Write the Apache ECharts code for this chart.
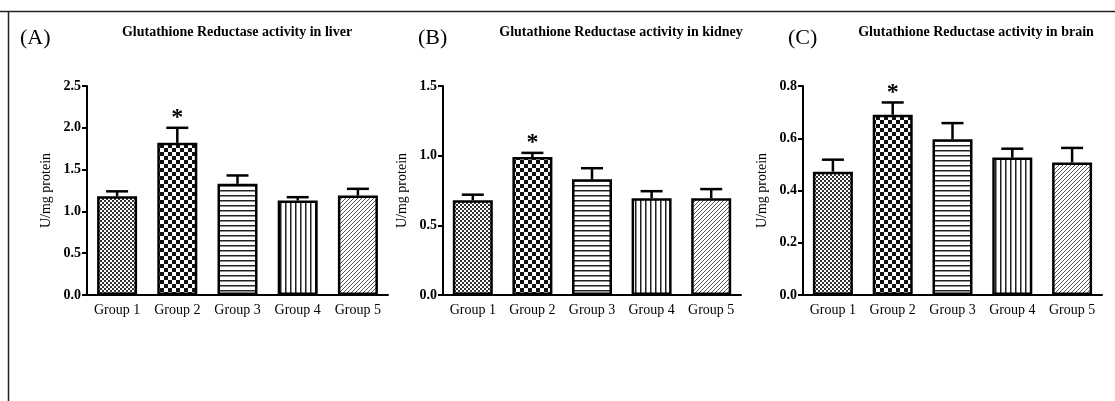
<!DOCTYPE html>
<html lang="en">

<head>
    <meta charset="UTF-8">
    <title>Glutathione Reductase activity</title>
    <script src="https://cdn.jsdelivr.net/npm/echarts@6.0.0/dist/echarts.min.js"></script>
    <style>
        html, body { margin: 0; padding: 0; background: #fff; }
    </style>
</head>

<body>
    <div id="echart" style="width: 1115px; height: 401px;"></div>
</body>

<script>
    // data
    const categories = ['Group 1', 'Group 2', 'Group 3', 'Group 4', 'Group 5'];
    const liverMean = [1.18, 1.82, 1.33, 1.13, 1.19];
    const liverErr = [0.06, 0.18, 0.10, 0.04, 0.08];
    const kidneyMean = [0.68, 0.99, 0.83, 0.695, 0.695];
    const kidneyErr = [0.04, 0.03, 0.08, 0.05, 0.065];
    const brainMean = [0.472, 0.69, 0.596, 0.526, 0.507];
    const brainErr = [0.046, 0.047, 0.062, 0.034, 0.056];
    const significant = [false, true, false, false, false];

    const panelLetters = ['(A)', '(B)', '(C)'];
    const panelTitles = [
        'Glutathione Reductase activity in liver',
        'Glutathione Reductase activity in kidney',
        'Glutathione Reductase activity in brain'
    ];
    const yMax = [2.5, 1.5, 0.8];
    const yStep = [0.5, 0.5, 0.2];

    const FONT = "'Liberation Serif', 'Times New Roman', serif";

    // fill patterns (one per group), drawn on small canvases
    function makePattern(w, h, draw) {
        const c = document.createElement('canvas');
        c.width = w; c.height = h;
        const ctx = c.getContext('2d');
        ctx.fillStyle = '#fff';
        ctx.fillRect(0, 0, w, h);
        draw(ctx);
        return { image: c, repeat: 'repeat' };
    }
    const patterns = [
        makePattern(4, 4, ctx => {   // fine checker
            ctx.fillStyle = '#333';
            ctx.fillRect(0, 0, 2, 2);
            ctx.fillRect(2, 2, 2, 2);
        }),
        makePattern(8, 8, ctx => {   // coarse checker
            ctx.fillStyle = '#111';
            ctx.fillRect(0, 0, 4, 4);
            ctx.fillRect(4, 4, 4, 4);
        }),
        makePattern(8, 5, ctx => {   // horizontal lines
            ctx.fillStyle = '#222';
            ctx.fillRect(0, 0, 8, 1.5);
        }),
        makePattern(5, 8, ctx => {   // vertical lines
            ctx.fillStyle = '#222';
            ctx.fillRect(0, 0, 1.5, 8);
        }),
        makePattern(4, 4, ctx => {   // diagonal hatch
            ctx.strokeStyle = '#555';
            ctx.lineWidth = 1;
            ctx.beginPath();
            ctx.moveTo(-1, 5); ctx.lineTo(5, -1);
            ctx.moveTo(-1, 1); ctx.lineTo(1, -1);
            ctx.moveTo(3, 5); ctx.lineTo(5, 3);
            ctx.stroke();
        })
    ];

    const means = [liverMean, kidneyMean, brainMean];
    const errs = [liverErr, kidneyErr, brainErr];

    const gridLeft = [87, 443, 803];
    const gridWidth = [301, 298, 299];

    const grids = [], xAxes = [], yAxes = [], series = [], titles = [];

    for (let p = 0; p < 3; p++) {
        grids.push({ left: gridLeft[p], width: gridWidth[p], top: 86, bottom: 106 });

        xAxes.push({
            type: 'category',
            gridIndex: p,
            data: categories,
            axisLine: { lineStyle: { color: '#000', width: 2 } },
            axisTick: { alignWithLabel: true, length: 5, lineStyle: { color: '#000', width: 2 } },
            axisLabel: { color: '#000', fontFamily: FONT, fontSize: 14, margin: 8, interval: 0, hideOverlap: false }
        });

        yAxes.push({
            type: 'value',
            gridIndex: p,
            min: 0,
            max: yMax[p],
            interval: yStep[p],
            name: 'U/mg protein',
            nameLocation: 'middle',
            nameGap: 34,
            nameTextStyle: { color: '#000', fontFamily: FONT, fontSize: 14 },
            axisLine: { show: true, lineStyle: { color: '#000', width: 2 } },
            axisTick: { show: true, length: 5, lineStyle: { color: '#000', width: 2 } },
            axisLabel: {
                color: '#000', fontFamily: FONT, fontSize: 14, fontWeight: 'bold', margin: 6,
                formatter: v => v.toFixed(1)
            },
            splitLine: { show: false }
        });

        series.push({
            type: 'bar',
            xAxisIndex: p,
            yAxisIndex: p,
            barWidth: 40,
            data: means[p].map((v, i) => ({
                value: v,
                itemStyle: { color: patterns[i] }
            })),
            itemStyle: { borderColor: '#000', borderWidth: 2.5 },
            silent: true
        });

        // upper error bar + asterisk
        const errData = means[p].map((v, i) => [i, v, v + errs[p][i], significant[i] ? 1 : 0]);
        series.push({
            type: 'custom',
            xAxisIndex: p,
            yAxisIndex: p,
            data: errData,
            encode: { x: 0, y: [1, 2] },
            z: 3,
            silent: true,
            renderItem: (params, api) => {
                const base = api.coord([api.value(0), api.value(1)]);
                const top = api.coord([api.value(0), api.value(2)]);
                const capHalf = 11;
                const children = [
                    {
                        type: 'line',
                        shape: { x1: base[0], y1: base[1], x2: top[0], y2: top[1] },
                        style: { stroke: '#000', lineWidth: 2.5 }
                    },
                    {
                        type: 'line',
                        shape: { x1: top[0] - capHalf, y1: top[1], x2: top[0] + capHalf, y2: top[1] },
                        style: { stroke: '#000', lineWidth: 2.5 }
                    }
                ];
                if (api.value(3)) {
                    children.push({
                        type: 'text',
                        style: {
                            text: '*', x: top[0], y: top[1] + 2,
                            align: 'center', verticalAlign: 'bottom',
                            font: 'bold 24px ' + FONT, fill: '#000'
                        }
                    });
                }
                return { type: 'group', children: children };
            }
        });
    }

    const letterLeft = [15, 413, 783];
    const titleCenter = [232, 616, 971];
    for (let p = 0; p < 3; p++) {
        titles.push({
            text: panelLetters[p],
            left: letterLeft[p], top: 22,
            textStyle: { fontFamily: FONT, fontSize: 22, fontWeight: 'normal', color: '#000' }
        });
        titles.push({
            text: panelTitles[p],
            left: titleCenter[p], top: 20,
            textAlign: 'center',
            textStyle: { fontFamily: FONT, fontSize: 14, fontWeight: 'bold', color: '#000' }
        });
    }

    const myChart = echarts.init(document.getElementById('echart'));
    myChart.setOption({
        animation: false,
        backgroundColor: '#fff',
        title: titles,
        grid: grids,
        xAxis: xAxes,
        yAxis: yAxes,
        series: series,
        // frame lines of the figure
        graphic: [
            { type: 'line', shape: { x1: 0, y1: 11.5, x2: 1115, y2: 11.5 }, style: { stroke: '#222', lineWidth: 1.5 } },
            { type: 'line', shape: { x1: 8.5, y1: 11, x2: 8.5, y2: 401 }, style: { stroke: '#222', lineWidth: 1.5 } }
        ]
    });
</script>

</html>
